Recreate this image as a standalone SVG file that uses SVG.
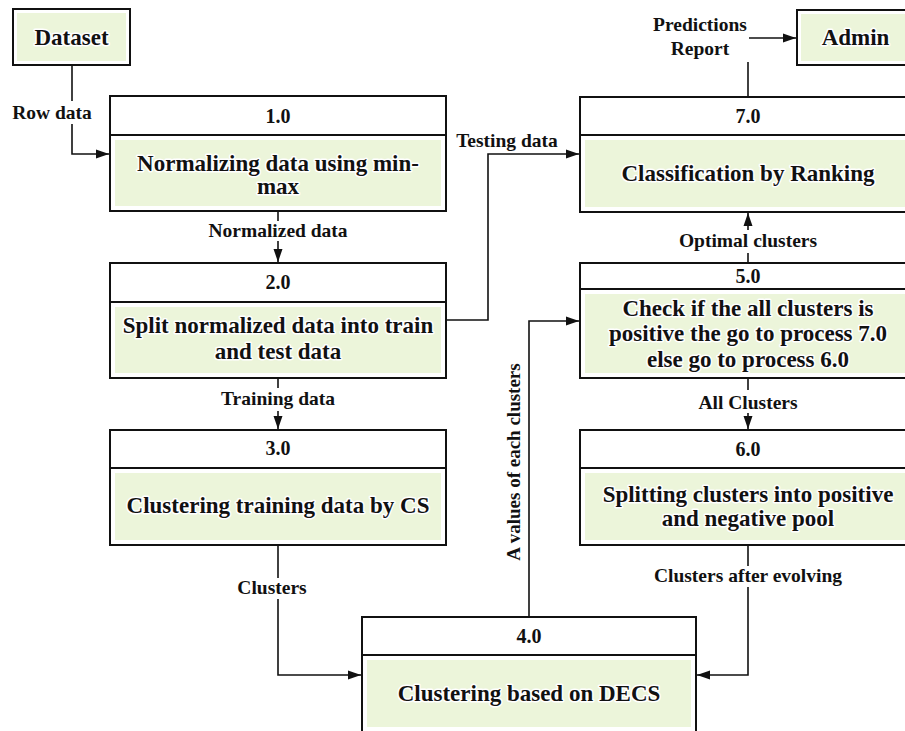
<svg xmlns="http://www.w3.org/2000/svg" width="905" height="731" viewBox="0 0 905 731">
<style>
.box{fill:#fff;stroke:#111;stroke-width:2}
.fill{fill:#ECF5DA}
.div{stroke:#111;stroke-width:2}
text{font-family:'Liberation Serif','Times New Roman','DejaVu Serif',serif;font-weight:700;fill:#111;text-anchor:middle}
.t{font-size:23px;stroke:#fff;stroke-width:3;paint-order:stroke;stroke-linejoin:round}
.h{font-size:20px}
.l{font-size:19.5px}
.v{font-size:19px}
.c{fill:none;stroke:#111;stroke-width:1.6}
</style>
<defs>
<marker id="ar" markerUnits="userSpaceOnUse" markerWidth="14" markerHeight="12" viewBox="0 0 14 12" refX="13" refY="6" orient="auto">
<path d="M0,1.5 L13,6 L0,10.5 Z" fill="#111"/>
</marker>
</defs>
<g id="connectors">
<path class="c" d="M72,65 V101"/>
<path class="c" d="M72,124 V154 H109" marker-end="url(#ar)"/>
<path class="c" d="M278,211 V221"/>
<path class="c" d="M278,241 V262" marker-end="url(#ar)"/>
<path class="c" d="M278,378 V388"/>
<path class="c" d="M278,411 V429" marker-end="url(#ar)"/>
<path class="c" d="M446,320 H488 V154 H579" marker-end="url(#ar)"/>
<path class="c" d="M278,545 V578"/>
<path class="c" d="M278,599 V675 H361" marker-end="url(#ar)"/>
<path class="c" d="M748,545 V566"/>
<path class="c" d="M748,587 V675 H697" marker-end="url(#ar)"/>
<path class="c" d="M529,617 V321 H579" marker-end="url(#ar)"/>
<path class="c" d="M748,263 V253"/>
<path class="c" d="M748,230 V213" marker-end="url(#ar)"/>
<path class="c" d="M748,378 V390"/>
<path class="c" d="M748,413 V429" marker-end="url(#ar)"/>
<path class="c" d="M748,97 V62"/>
<path class="c" d="M749,38 H796" marker-end="url(#ar)"/>
<text class="l" x="52" y="119">Row data</text>
<text class="l" x="278" y="237">Normalized data</text>
<text class="l" x="278" y="405">Training data</text>
<text class="l" x="507" y="147">Testing data</text>
<text class="l" x="272" y="594">Clusters</text>
<text class="l" x="748" y="582">Clusters after evolving</text>
<text class="l" x="748" y="247">Optimal clusters</text>
<text class="l" x="748" y="409">All Clusters</text>
<text class="l" x="700" y="31">Predictions</text>
<text class="l" x="700" y="55">Report</text>
<text class="v" transform="translate(520,462) rotate(-90)" x="0" y="0">A values of each clusters</text>
</g>
<g id="dataset">
<rect class="box" x="13" y="9" width="117" height="56"/>
<rect class="fill" x="17" y="13" width="109" height="48"/>
<text class="t" x="71.5" y="45">Dataset</text>
</g>
<g id="admin">
<rect class="box" x="797" y="10" width="117" height="55"/>
<rect class="fill" x="801" y="14" width="109" height="47"/>
<text class="t" x="855.5" y="45">Admin</text>
</g>
<g id="p1">
<rect class="box" x="110" y="96" width="336" height="115"/>
<line class="div" x1="110" y1="135" x2="446" y2="135"/>
<rect class="fill" x="115" y="140" width="326" height="66"/>
<text class="h" x="278" y="123">1.0</text>
<text class="t" x="278" y="171">Normalizing data using min-</text>
<text class="t" x="278" y="194">max</text>
</g>
<g id="p2">
<rect class="box" x="110" y="263" width="336" height="115"/>
<line class="div" x1="110" y1="302" x2="446" y2="302"/>
<rect class="fill" x="115" y="307" width="326" height="66"/>
<text class="h" x="278" y="289">2.0</text>
<text class="t" x="278" y="333">Split normalized data into train</text>
<text class="t" x="278" y="359">and test data</text>
</g>
<g id="p3">
<rect class="box" x="110" y="430" width="336" height="115"/>
<line class="div" x1="110" y1="468" x2="446" y2="468"/>
<rect class="fill" x="115" y="473" width="326" height="67"/>
<text class="h" x="278" y="455">3.0</text>
<text class="t" x="278" y="513">Clustering training data by CS</text>
</g>
<g id="p4">
<rect class="box" x="362" y="617" width="334" height="116"/>
<line class="div" x1="362" y1="655" x2="696" y2="655"/>
<rect class="fill" x="367" y="660" width="324" height="67"/>
<text class="h" x="529" y="643">4.0</text>
<text class="t" x="529" y="701">Clustering based on DECS</text>
</g>
<g id="p7">
<rect class="box" x="580" y="97" width="336" height="115"/>
<line class="div" x1="580" y1="135" x2="916" y2="135"/>
<rect class="fill" x="585" y="140" width="326" height="67"/>
<text class="h" x="748" y="123">7.0</text>
<text class="t" x="748" y="181">Classification by Ranking</text>
</g>
<g id="p5">
<rect class="box" x="580" y="263" width="336" height="115"/>
<line class="div" x1="580" y1="289" x2="916" y2="289"/>
<rect class="fill" x="585" y="294" width="326" height="79"/>
<text class="h" x="748" y="283">5.0</text>
<text class="t" x="748" y="316">Check if the all clusters is</text>
<text class="t" x="748" y="341">positive the go to process 7.0</text>
<text class="t" x="748" y="367">else go to process 6.0</text>
</g>
<g id="p6">
<rect class="box" x="580" y="430" width="336" height="115"/>
<line class="div" x1="580" y1="468" x2="916" y2="468"/>
<rect class="fill" x="585" y="473" width="326" height="67"/>
<text class="h" x="748" y="456">6.0</text>
<text class="t" x="748" y="502">Splitting clusters into positive</text>
<text class="t" x="748" y="526">and negative pool</text>
</g>
</svg>
